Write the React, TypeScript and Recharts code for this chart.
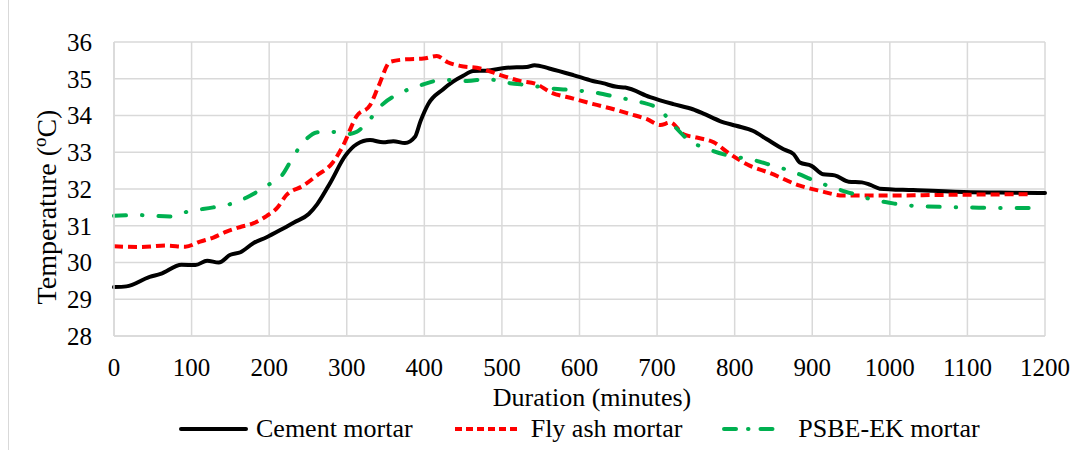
import { LineChart, Line, XAxis, YAxis, CartesianGrid } from 'recharts';

const xTicks = [0, 100, 200, 300, 400, 500, 600, 700, 800, 900, 1000, 1100, 1200];
const yTicks = [28, 29, 30, 31, 32, 33, 34, 35, 36];

const cementMinutes = [
  0, 16, 46, 60, 87, 105, 120, 135, 150, 163, 180, 196, 215, 232, 251, 262, 279, 298, 313, 330, 347,
  360, 375, 388, 395, 405, 424, 437, 450, 463, 480, 506, 532, 542, 561, 592, 617, 630, 648, 659, 691,
  721, 746, 759, 781, 802, 824, 841, 863, 876, 884, 899, 914, 929, 947, 964, 975, 987, 1030, 1095,
  1159, 1200,
];
const cementTemp = [
  29.33, 29.35, 29.61, 29.69, 29.94, 29.93, 30.05, 30.0, 30.21, 30.28, 30.53, 30.68, 30.89, 31.09,
  31.32, 31.59, 32.18, 32.9, 33.22, 33.33, 33.27, 33.3, 33.25, 33.42, 33.84, 34.31, 34.71, 34.92,
  35.08, 35.21, 35.22, 35.3, 35.32, 35.37, 35.28, 35.1, 34.94, 34.88, 34.78, 34.76, 34.5, 34.31,
  34.17, 34.06, 33.85, 33.72, 33.58, 33.36, 33.08, 32.95, 32.72, 32.63, 32.4, 32.37, 32.2, 32.18,
  32.11, 32.01, 31.97, 31.92, 31.9, 31.89,
];

const flyAshMinutes = [
  0, 33, 68, 92, 111, 128, 145, 162, 180, 197, 210, 222, 244, 261, 282, 295, 313, 330, 341, 356, 377,
  399, 416, 430, 446, 472, 498, 523, 545, 562, 592, 618, 644, 665, 687, 704, 717, 734, 751, 773, 794,
  820, 846, 884, 910, 940, 987, 1073, 1179,
];
const flyAshTemp = [
  30.44, 30.42, 30.46, 30.43, 30.57, 30.68, 30.84, 30.96, 31.07, 31.27, 31.48, 31.83, 32.09, 32.36,
  32.72, 33.17, 33.99, 34.28, 34.8, 35.46, 35.53, 35.55, 35.62, 35.45, 35.35, 35.28, 35.1, 34.94,
  34.85, 34.64, 34.46, 34.31, 34.17, 34.04, 33.9, 33.74, 33.81, 33.49, 33.4, 33.27, 32.95, 32.63,
  32.43, 32.09, 31.95, 31.82, 31.82, 31.84, 31.86,
];

const psbeMinutes = [
  0, 33, 72, 94, 128, 150, 171, 197, 216, 233, 248, 261, 279, 300, 313, 328, 343, 371, 395, 424, 455,
  480, 510, 536, 562, 592, 622, 650, 678, 704, 721, 742, 764, 790, 824, 850, 871, 906, 931, 959, 983,
  996, 1015, 1043, 1099, 1155, 1187,
];
const psbeTemp = [
  31.27, 31.29, 31.25, 31.38, 31.5, 31.59, 31.77, 32.09, 32.36, 32.95, 33.36, 33.54, 33.56, 33.49,
  33.56, 33.85, 34.24, 34.63, 34.82, 34.97, 34.94, 34.99, 34.88, 34.82, 34.74, 34.69, 34.62, 34.49,
  34.37, 34.15, 33.74, 33.31, 33.1, 32.92, 32.79, 32.63, 32.5, 32.2, 32.01, 31.83, 31.68, 31.64,
  31.57, 31.53, 31.5, 31.48, 31.48,
];

const toPoints = (mins: number[], temps: number[]) => mins.map((m, i) => ({ x: m, y: temps[i] }));

const SERIF = 'Liberation Serif, Tinos, DejaVu Serif, serif';

const series = [
  { name: 'Cement mortar', data: toPoints(cementMinutes, cementTemp), color: '#000000', dash: undefined, cap: 'round' as const },
  { name: 'Fly ash mortar', data: toPoints(flyAshMinutes, flyAshTemp), color: '#ff0000', dash: '9 5', cap: 'butt' as const },
  { name: 'PSBE-EK mortar', data: toPoints(psbeMinutes, psbeTemp), color: '#00b050', dash: '12 16 0.5 16', cap: 'round' as const },
];

// legend swatch widths / text gaps (px)
const legendLayout = [
  { swatch: 69, gap: 8, legendDash: undefined },
  { swatch: 70, gap: 8, legendDash: '7 4' },
  { swatch: 60, gap: 16, legendDash: '12 12 0.5 12' },
];

function YTitle() {
  return (
    <text
      x={56}
      y={207}
      transform="rotate(-90 56 207)"
      textAnchor="middle"
      fontFamily={SERIF}
      fontSize={28}
      fill="#000"
    >
      Temperature (<tspan fontSize={19} dy={-10}>o</tspan><tspan dy={10}>C)</tspan>
    </text>
  );
}

function XTitle() {
  return (
    <text x={592} y={406} textAnchor="middle" fontFamily={SERIF} fontSize={26} fill="#000">
      Duration (minutes)
    </text>
  );
}

export default function App() {
  return (
    <div style={{ position: 'absolute', left: 0, top: 0, width: 1076, height: 450, background: '#fff', fontFamily: SERIF }}>
      <div style={{ position: 'absolute', left: 8, top: 0, width: 1, height: 450, background: '#d9d9d9' }} />
      <LineChart
        width={1076}
        height={450}
        margin={{ top: 42, right: 31, left: 54, bottom: 74 }}
        style={{ fontFamily: SERIF }}
      >
        <CartesianGrid stroke="#d9d9d9" strokeWidth={1.5} />
        <XAxis
          type="number"
          dataKey="x"
          domain={[0, 1200]}
          ticks={xTicks}
          interval={0}
          height={40}
          tickLine={false}
          tickSize={0}
          tickMargin={22}
          axisLine={{ stroke: '#d9d9d9', strokeWidth: 1.5 }}
          tick={{ fill: '#000', fontSize: 25, fontFamily: SERIF }}
          label={{ content: () => <XTitle /> }}
        />
        <YAxis
          type="number"
          domain={[28, 36]}
          ticks={yTicks}
          interval={0}
          width={60}
          tickLine={false}
          tickSize={0}
          tickMargin={22}
          axisLine={{ stroke: '#d9d9d9', strokeWidth: 1.5 }}
          tick={{ fill: '#000', fontSize: 25, fontFamily: SERIF }}
          label={{ content: () => <YTitle /> }}
        />
        {series.map((s) => (
          <Line
            key={s.name}
            data={s.data}
            dataKey="y"
            name={s.name}
            type="monotone"
            stroke={s.color}
            strokeWidth={4}
            strokeDasharray={s.dash}
            strokeLinecap={s.cap}
            dot={false}
            activeDot={false}
            isAnimationActive={false}
          />
        ))}
      </LineChart>
      <div
        style={{
          position: 'absolute',
          left: 179,
          top: 415,
          display: 'flex',
          alignItems: 'center',
          gap: 40,
          fontFamily: SERIF,
          fontSize: 26,
          lineHeight: '28px',
          color: '#000',
        }}
      >
        {series.map((s, i) => (
          <div key={s.name} style={{ display: 'flex', alignItems: 'center' }}>
            <svg width={legendLayout[i].swatch} height={10} style={{ marginRight: legendLayout[i].gap }}>
              <line
                x1={2}
                y1={5}
                x2={legendLayout[i].swatch - 2}
                y2={5}
                stroke={s.color}
                strokeWidth={4}
                strokeDasharray={legendLayout[i].legendDash}
                strokeLinecap={s.cap}
              />
            </svg>
            <span>{s.name}</span>
          </div>
        ))}
      </div>
    </div>
  );
}
